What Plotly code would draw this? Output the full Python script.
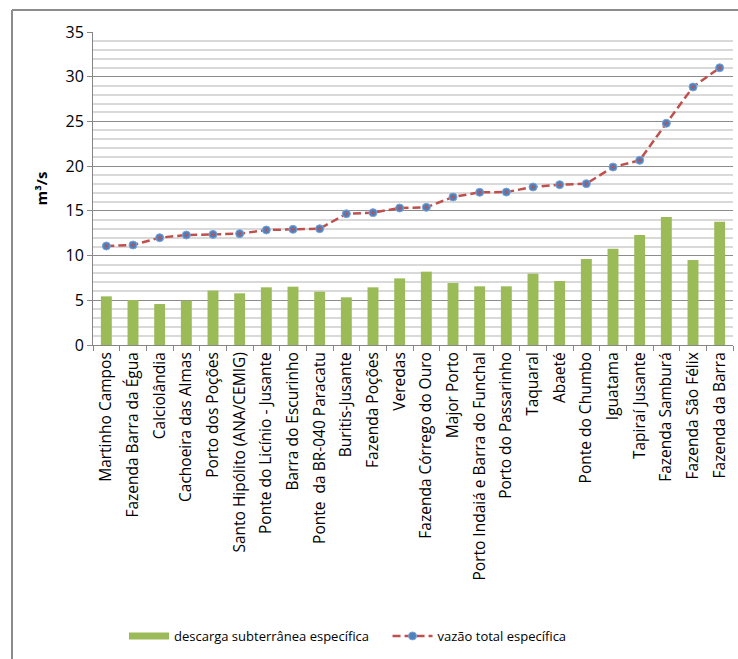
import plotly.graph_objects as go

categories = [
    "Martinho Campos", "Fazenda Barra da Égua", "Calciolândia", "Cachoeira das Almas",
    "Porto dos Poções", "Santo Hipólito (ANA/CEMIG)", "Ponte do Licínio - Jusante",
    "Barra do Escurinho", "Ponte  da BR-040 Paracatu", "Buritis-Jusante", "Fazenda Poções",
    "Veredas", "Fazenda Córrego do Ouro", "Major Porto", "Porto Indaiá e Barra do Funchal",
    "Porto do Passarinho", "Taquaral", "Abaeté", "Ponte do Chumbo", "Iguatama",
    "Tapiraí Jusante", "Fazenda Samburá", "Fazenda São Félix", "Fazenda da Barra",
]
descarga = [5.44, 5.03, 4.58, 4.96, 6.08, 5.78, 6.45, 6.52, 5.96, 5.33, 6.45,
            7.45, 8.2, 6.93, 6.56, 6.56, 7.98, 7.16, 9.62, 10.77, 12.3, 14.31, 9.5, 13.79]
vazao = [11.07, 11.18, 12.0, 12.3, 12.37, 12.45, 12.86, 12.93, 13.0, 14.68, 14.8,
         15.32, 15.39, 16.55, 17.07, 17.1, 17.67, 17.93, 18.04, 19.9, 20.65, 24.79, 28.85, 31.0]

FONT = "Open Sans"
GREEN = "#9BBB59"
RED = "#C0504D"
BLUE = "#4F81BD"

fig = go.Figure()
fig.add_trace(go.Bar(
    x=categories, y=descarga, name="descarga subterrânea específica", showlegend=False,
    marker=dict(color=GREEN, line=dict(width=0)),
))
# legend-only entry giving a wide rectangular swatch like the original
fig.add_trace(go.Scatter(
    x=[None], y=[None], mode="lines", name="descarga subterrânea específica    ",
    line=dict(color=GREEN, width=7),
))
fig.add_trace(go.Scatter(
    x=categories, y=vazao, name="vazão total específica", mode="lines+markers",
    line=dict(color=RED, width=2.5, dash="8px,4px"),
    marker=dict(color=BLUE, size=8, line=dict(color="#7FA3D6", width=1)),
))
fig.add_trace(go.Scatter(
    x=categories, y=vazao, mode="markers", showlegend=False, hoverinfo="skip",
    marker=dict(color=RED, size=3),
))

W0, H0 = 738, 659
L, R, T, B = 93, 5, 32, 314
pw, ph = W0 - L - R, H0 - T - B

def px_x(x):
    return (x - L) / pw

def px_y(y):
    return (H0 - B - y) / ph

fig.update_layout(
    width=W0, height=H0,
    margin=dict(l=L, r=R, t=T, b=B),
    paper_bgcolor="white", plot_bgcolor="white",
    font=dict(family=FONT, size=14, color="#000000"),
    bargap=0.59,
    showlegend=True,
    legend=dict(orientation="h", x=px_x(348), y=px_y(636), xanchor="center", yanchor="middle",
                font=dict(family=FONT, size=13), itemwidth=40, traceorder="normal"),
    xaxis=dict(
        type="category", tickangle=-90, showgrid=False,
        showline=True, linecolor="#868686", linewidth=1,
        ticks="outside", ticklen=5, tickcolor="#868686", tickson="boundaries",
        tickfont=dict(family=FONT, size=15.5), range=[-0.5, len(categories) - 0.5],
    ),
    yaxis=dict(
        range=[0, 35], dtick=5, tick0=0,
        showline=True, linecolor="#868686", linewidth=1,
        ticks="outside", ticklen=5, tickcolor="#868686",
        gridcolor="#8C8C8C", gridwidth=1,
        minor=dict(dtick=1, showgrid=True, gridcolor="#D9D9D9", gridwidth=2),
        tickfont=dict(family=FONT, size=16), zeroline=False,
        title=dict(text="<b>m³/s</b>", font=dict(family=FONT, size=15), standoff=14),
    ),
    shapes=[
        dict(type="line", xref="paper", yref="paper", x0=px_x(12), x1=px_x(12),
             y0=px_y(10), y1=px_y(H0 + 5), line=dict(color="#8C8C8C", width=2)),
        dict(type="line", xref="paper", yref="paper", x0=px_x(12), x1=px_x(W0 + 5),
             y0=px_y(10), y1=px_y(10), line=dict(color="#8C8C8C", width=2)),
    ],
)

fig.write_html("out.html")
